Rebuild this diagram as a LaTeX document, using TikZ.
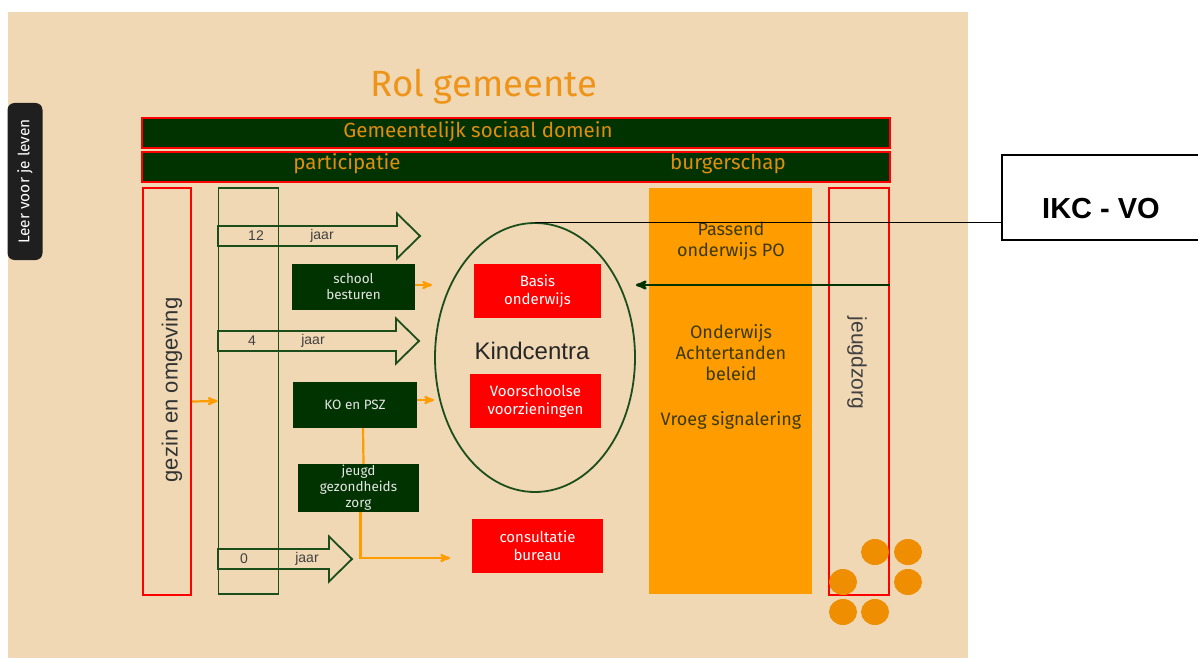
\documentclass[tikz,border=0pt]{standalone}
\usepackage{fontspec}
\setmainfont{Fira Sans}
\newfontfamily\arialfont{Liberation Sans}
\usetikzlibrary{arrows,shapes,positioning}

\definecolor{beige}{HTML}{F0D8B4}
\definecolor{donkergroen}{HTML}{013301}
\definecolor{lijngroen}{HTML}{1C4E1C}
\definecolor{kolomoranje}{HTML}{FF9C00}
\definecolor{tekstoranje}{HTML}{EE9419}
\definecolor{balkoranje}{HTML}{E08D0C}
\definecolor{stiporanje}{HTML}{EE8E00}
\definecolor{olijf}{HTML}{3A3A08}

\begin{document}
\begin{tikzpicture}[x=1pt,y=-1pt,>=stealth',auto]

	\tikzstyle{balk}=[rectangle,draw=red,line width=1.8pt,fill=donkergroen,minimum width=748pt,minimum height=30pt]
	\tikzstyle{balktekst}=[text=balkoranje,font=\fontsize{20.5}{22}\selectfont]
	\tikzstyle{roodvak}=[rectangle,draw=red,line width=1.8pt,minimum width=48pt,minimum height=407pt]
	\tikzstyle{groenvak}=[rectangle,fill=donkergroen,text=white!90!black,align=center,inner sep=0pt,font=\fontsize{13.5}{16}\selectfont]
	\tikzstyle{rodevak}=[rectangle,fill=red,text=white,align=center,inner sep=1pt,font=\fontsize{15}{18}\selectfont]
	\tikzstyle{olijftekst}=[text=olijf,align=center,font=\fontsize{18}{21}\selectfont]
	\tikzstyle{jaartekst}=[text=black!75,font=\arialfont\fontsize{14}{16}\selectfont]
	\tikzstyle{pijlrand}=[draw=lijngroen,line width=1.8pt]
	\tikzstyle{oranjepijl}=[->,draw=kolomoranje,line width=2.2pt]

	\useasboundingbox (0,0) rectangle (1198,658);
	\fill[beige] (8,12) rectangle (968,658);

	\node[rectangle,fill=black!88,rounded corners=7pt,rotate=90,minimum width=157pt,minimum height=35pt,text=white,font=\fontsize{15.5}{17}\selectfont] (tab) at (25,181.5) {Leer voor je leven};

	\node[text=tekstoranje,font=\fontsize{36.5}{38}\selectfont] (titel) at (484,87) {Rol gemeente};

	\node[balk] (bar1) at (516,133) {};
	\node[balk] (bar2) at (516,167) {};
	\node[balktekst] (gsd) at (478,132) {Gemeentelijk sociaal domein};
	\node[balktekst] (part) at (347,164) {participatie};
	\node[balktekst] (burg) at (728,164) {burgerschap};

	\node[rectangle,fill=kolomoranje,minimum width=163pt,minimum height=406pt] (ok) at (730.5,391) {};
	\node[olijftekst] (po) at (731,241) {Passend\\onderwijs PO};
	\node[olijftekst] (oab) at (731,353) {Onderwijs\\Achtertanden\\beleid};
	\node[olijftekst] (vs) at (731,420) {Vroeg signalering};

	\node[roodvak] (gezin) at (167,391.5) {};
	\node[rotate=90,text=black!80,font=\arialfont\fontsize{22}{24}\selectfont] (gezintekst) at (172,390) {gezin en omgeving};
	\node[roodvak,minimum width=60pt] (jz) at (859,391.5) {};
	\node[rotate=-90,text=black!75,font=\arialfont\fontsize{21}{23}\selectfont] (jztekst) at (857,363) {jeugdzorg};

	\node[rectangle,draw=lijngroen,line width=1.8pt,minimum width=60pt,minimum height=406pt] (kolom) at (248.5,391) {};

	\foreach \yy/\xx/\num/\nx/\jx in {236/420/12/256/322, 341/419/4/252/313, 559/352/0/244/307} {
		\draw[pijlrand] (218,\yy-10) -- (\xx-23,\yy-10) -- (\xx-23,\yy-22.5) -- (\xx,\yy) -- (\xx-23,\yy+22.5) -- (\xx-23,\yy+10) -- (218,\yy+10) -- cycle;
		\node[jaartekst] (n\num) at (\nx,\yy) {\num};
		\node[jaartekst] (j\num) at (\jx,\yy) {jaar};
	}

	\node[groenvak,minimum width=123pt,minimum height=46pt] (school) at (353.5,287) {school\\besturen};
	\node[groenvak,minimum width=124pt,minimum height=46pt] (ko) at (355,405) {KO en PSZ};
	\node[groenvak,minimum width=121pt,minimum height=48pt] (jgz) at (358.5,488) {jeugd\\gezondheids\\zorg};

	\node[ellipse,draw=lijngroen,line width=1.8pt,minimum width=200pt,minimum height=269pt,inner sep=0pt] (kc) at (535,357.5) {};
	\node[rodevak,minimum width=127pt,minimum height=54pt] (basis) at (537.5,291) {Basis\\onderwijs};
	\node[text=black!85,font=\arialfont\fontsize{24}{26}\selectfont] (kctekst) at (532,351) {Kindcentra};
	\node[rodevak,minimum width=131pt,minimum height=54pt] (vvz) at (535.5,401) {Voorschoolse\\voorzieningen};
	\node[rodevak,minimum width=131pt,minimum height=54pt] (cb) at (537.5,546) {consultatie\\bureau};

	\coordinate (schoolpijl) at (432,285);
	\coordinate (kopijl) at (434,400);
	\coordinate (cbpijl) at (450,558);
	\coordinate (jzpijl) at (890,285);

	\draw[oranjepijl] ([yshift=-10pt]gezin.east) -- ([yshift=-10pt]kolom.west);
	\draw[oranjepijl] (school.east |- schoolpijl) -- (schoolpijl);
	\draw[oranjepijl] (ko.east |- kopijl) -- (kopijl);
	\draw[draw=kolomoranje,line width=2.2pt] ([xshift=8pt]ko.south) -- ([xshift=5pt]jgz.north);
	\draw[oranjepijl] ([xshift=2pt]jgz.south) |- (cbpijl);
	\draw[->,draw=donkergroen,line width=2.5pt] (jzpijl) -- (kc.east |- jzpijl);

	\node[rectangle,draw=black,line width=1.2pt,fill=white,minimum width=200pt,minimum height=85pt] (ikc) at (1102,197.5) {};
	\node[font=\arialfont\bfseries\fontsize{29}{31}\selectfont] (ikctekst) at (1101,209) {IKC - VO};
	\draw[black,line width=1pt] (kc.north) -- (kc.north -| ikc.west);

	\foreach \sx/\sy in {875/552, 908/552, 843/582, 908/582, 843/612, 875/612}
		\fill[stiporanje] (\sx,\sy) ellipse [x radius=14pt,y radius=13pt];

\end{tikzpicture}
\end{document}
